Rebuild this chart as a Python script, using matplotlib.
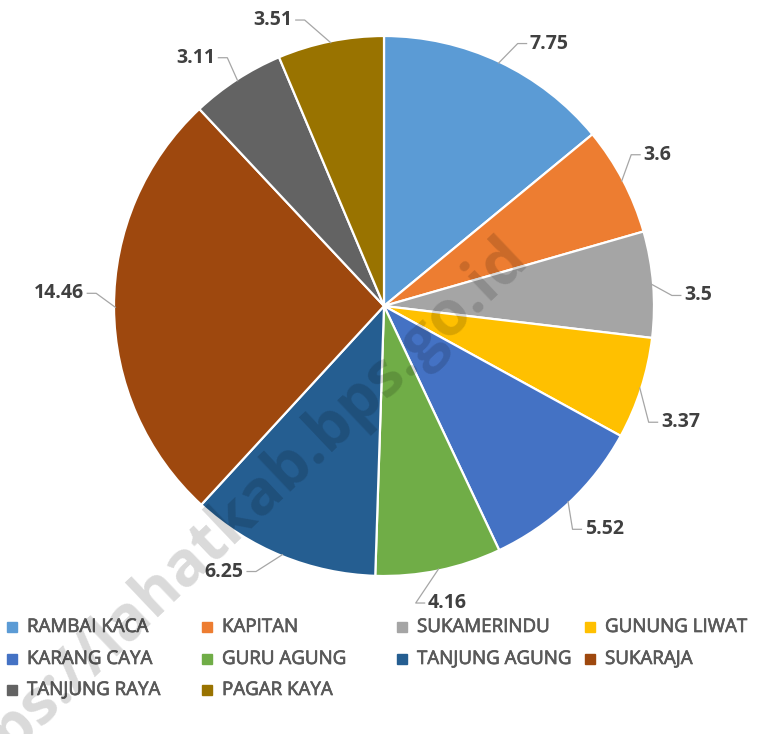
import numpy as np
import matplotlib
matplotlib.use("Agg")
import matplotlib.pyplot as plt
import matplotlib.patheffects as pe

categories = ["RAMBAI KACA", "KAPITAN", "SUKAMERINDU", "GUNUNG LIWAT",
              "KARANG CAYA", "GURU AGUNG", "TANJUNG AGUNG", "SUKARAJA",
              "TANJUNG RAYA", "PAGAR KAYA"]
values = [7.75, 3.6, 3.5, 3.37, 5.52, 4.16, 6.25, 14.46, 3.11, 3.51]
value_labels = ["7.75", "3.6", "3.5", "3.37", "5.52", "4.16", "6.25", "14.46", "3.11", "3.51"]
colors = ["#5B9BD5", "#ED7D31", "#A5A5A5", "#FFC000", "#4472C4",
          "#70AD47", "#255E91", "#9E480E", "#636363", "#997300"]

# layout: small angular nudges (degrees) of the data labels, as placed by the source
label_nudge = [-3.8, 2.5, -2.6, -5.0, -1.3, -3.3, -5.6, -2.7, 1.2, 6.3]

W, H = 761, 734
fig = plt.figure(figsize=(W / 100, H / 100), dpi=100)
ax = fig.add_axes([0, 0, 1, 1])
R = 270.0  # pixels per data unit
cx, cy = 384.0, 306.0  # pie centre in pixels from top-left

wedges, _ = ax.pie(values, colors=colors, startangle=90, counterclock=False,
                   radius=1.0, center=(0, 0), frame=True,
                   wedgeprops=dict(edgecolor="white", linewidth=1.6))
ax.set_xlim(-cx / R, (W - cx) / R)
ax.set_ylim(-(H - cy) / R, cy / R)
ax.set_aspect("auto")
ax.axis("off")

# data labels with leader lines
for w, lab, nd in zip(wedges, value_labels, label_nudge):
    mid_deg = (w.theta1 + w.theta2) / 2
    mid = np.deg2rad(mid_deg)
    la = np.deg2rad(mid_deg + nd)
    px, py = 1.112 * np.cos(la), 1.112 * np.sin(la)
    sign = 1 if np.cos(la) >= 0 else -1
    ex = px - sign * 0.012
    kx = px - sign * 0.045
    ax.plot([0.995 * np.cos(mid), kx, ex], [0.995 * np.sin(mid), py, py],
            color="#A6A6A6", lw=0.9, zorder=1)
    ax.text(px, py, lab, ha="left" if sign > 0 else "right",
            va="center", fontsize=14, fontweight="bold", family="Open Sans",
            color="#404040")

# legend (Excel-like fixed-width columns)
col_x = [12, 207, 402, 590]
row_y = [627, 659, 690]
for i, (name, col) in enumerate(zip(categories, colors)):
    r, cidx = divmod(i, 4)
    lx, ly = col_x[cidx], row_y[r]
    fig.patches.append(plt.Rectangle(((lx - 5) / W, 1 - (ly + 5) / H), 10 / W, 10 / H,
                                     transform=fig.transFigure, color=col,
                                     figure=fig))
    fig.text((lx + 15) / W, 1 - ly / H, name, ha="left", va="center",
             fontsize=13.5, family="Open Sans", color="#595959",
             path_effects=[pe.withStroke(linewidth=0.5, foreground="#595959")])

# watermark
fig.text(530 / W, 1 - 260 / H, "https://lahatkab.bps.go.id", rotation=43.5,
         rotation_mode="anchor", ha="right", va="baseline", fontsize=45,
         fontweight="bold", family="Open Sans", color="black", alpha=0.15,
         zorder=10)

fig.savefig("out.png", dpi=100)
